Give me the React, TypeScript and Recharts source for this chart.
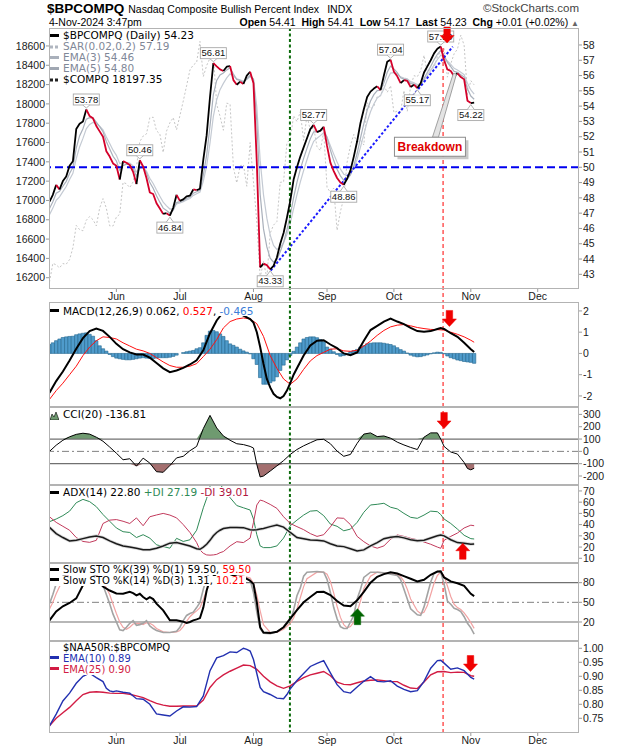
import React from 'react';
import { ComposedChart, Line, Area, Bar, XAxis, YAxis, ReferenceLine, ReferenceDot } from 'recharts';

// ---------------- DATA ----------------
const monthTicks = [20, 39, 61, 83, 103, 126, 146];
const monthNames = ['Jun', 'Jul', 'Aug', 'Sep', 'Oct', 'Nov', 'Dec'];

// $BPCOMPQ daily closes (trading-day index 0 = 3 May 2024 ... 127 = 4 Nov 2024)
const bpValues = [
  47.75, 48.2, 48.85, 48.55, 49.1, 49.4, 50.1, 50.4, 52.5, 52.85,
  53.0, 53.78, 53.35, 53.2, 52.7, 52.35, 52.0, 51.05, 50.7, 50.25,
  50.1, 49.2, 50.4, 50.3, 50.15, 49.7, 48.9, 50.46, 50.05, 49.3,
  48.35, 48.25, 47.65, 47.3, 46.95, 47.0, 46.84, 47.35, 48.2, 47.8,
  47.9, 48.1, 48.15, 48.55, 48.5, 48.6, 50.5, 52.1, 54.6, 56.81,
  56.6, 56.4, 56.3, 56.58, 56.62, 55.7, 55.4, 55.6, 55.45, 56.0,
  56.25, 55.5, 50.3, 43.45, 43.7, 43.6, 43.33, 43.55, 44.1, 45.0,
  45.7, 46.7, 47.8, 49.2, 50.0, 50.7, 51.3, 51.9, 52.5, 52.77,
  52.3, 52.4, 52.65, 51.4, 50.3, 49.75, 49.3, 49.0, 48.86, 49.25,
  49.8, 50.7, 51.7, 52.9, 53.8, 54.6, 54.95, 55.15, 55.3, 55.05,
  56.0, 56.9, 57.04, 56.25, 55.95, 55.5, 55.7, 55.65, 55.25, 55.4,
  55.17, 55.5, 56.2, 56.6, 57.0, 57.45, 57.75, 57.9, 57.0, 56.4,
  56.3, 55.95, 56.15, 55.9, 55.75, 54.35, 54.2, 54.23,
];
const ema3Values = [
  47.3, 47.75, 48.3, 48.43, 48.76, 49.08, 49.59, 50.0, 51.25, 52.05,
  52.52, 53.15, 53.25, 53.23, 52.96, 52.66, 52.33, 51.69, 51.2, 50.72,
  50.41, 49.8, 50.1, 50.2, 50.18, 49.94, 49.42, 49.94, 50.0, 49.65,
  49.0, 48.63, 48.14, 47.72, 47.33, 47.17, 47.0, 47.18, 47.69, 47.75,
  47.82, 47.96, 48.06, 48.3, 48.4, 48.5, 49.5, 50.8, 52.7, 54.76,
  55.68, 56.04, 56.17, 56.37, 56.5, 56.1, 55.75, 55.68, 55.56, 55.78,
  56.02, 55.76, 53.03, 48.24, 45.97, 44.79, 44.06, 43.8, 43.95, 44.48,
  45.09, 45.9, 46.85, 48.02, 49.01, 49.86, 50.58, 51.24, 51.87, 52.32,
  52.31, 52.36, 52.5, 51.95, 51.13, 50.44, 49.87, 49.44, 49.15, 49.2,
  49.5, 50.1, 50.9, 51.9, 52.85, 53.73, 54.34, 54.75, 55.02, 55.04,
  55.52, 56.21, 56.62, 56.44, 56.19, 55.85, 55.77, 55.71, 55.48, 55.44,
  55.3, 55.4, 55.8, 56.2, 56.6, 57.03, 57.39, 57.64, 57.32, 56.86,
  56.58, 56.27, 56.21, 56.05, 55.9, 55.13, 54.66, 54.45,
];
const ema5Values = [
  46.9, 47.33, 47.84, 48.07, 48.41, 48.74, 49.2, 49.6, 50.57, 51.33,
  51.89, 52.52, 52.8, 52.93, 52.85, 52.68, 52.45, 51.98, 51.55, 51.12,
  50.78, 50.25, 50.3, 50.3, 50.28, 50.09, 49.69, 49.95, 49.98, 49.75,
  49.28, 48.94, 48.51, 48.11, 47.72, 47.48, 47.27, 47.3, 47.6, 47.67,
  47.75, 47.87, 47.96, 48.16, 48.27, 48.38, 49.09, 50.09, 51.59, 53.33,
  54.42, 55.08, 55.49, 55.85, 56.11, 55.97, 55.78, 55.72, 55.63, 55.75,
  55.92, 55.78, 53.95, 50.45, 48.2, 46.67, 45.56, 44.89, 44.63, 44.75,
  45.07, 45.61, 46.34, 47.29, 48.19, 49.03, 49.79, 50.49, 51.16, 51.7,
  51.9, 52.07, 52.26, 51.97, 51.41, 50.86, 50.34, 49.89, 49.55, 49.45,
  49.57, 49.95, 50.53, 51.32, 52.15, 52.97, 53.63, 54.14, 54.53, 54.7,
  55.13, 55.72, 56.16, 56.19, 56.11, 55.91, 55.84, 55.78, 55.6, 55.53,
  55.41, 55.44, 55.69, 55.99, 56.33, 56.7, 57.05, 57.33, 57.22, 56.95,
  56.73, 56.47, 56.36, 56.21, 56.06, 55.49, 55.06, 54.78,
];
const compqValues = [
  16156, 16349, 16333, 16302, 16346, 16340, 16388, 16511, 16742, 16698,
  16686, 16795, 16833, 16801, 16737, 16921, 17019, 16920, 16737, 16735,
  16828, 16857, 17187, 17173, 17133, 17192, 17343, 17608, 17667, 17689,
  17857, 17862, 17721, 17689, 17497, 17718, 17805, 17858, 17732, 17879,
  18029, 18188, 18352, 18403, 18430, 18647, 18283, 18398, 18473, 18509,
  17997, 17871, 17727, 18008, 17997, 17342, 17182, 17358, 17370, 17147,
  17599, 17194, 16776, 16200, 16367, 16195, 16660, 16745, 16781, 17188,
  17192, 17595, 17632, 17877, 17817, 17918, 17620, 17878, 17726, 17754,
  17556, 17516, 17714, 17136, 17084, 17128, 16691, 16885, 17026, 17396,
  17570, 17684, 17593, 17628, 17574, 18014, 17948, 17974, 18075, 18082,
  18191, 18120, 18189, 17910, 17926, 17918, 18138, 17924, 18183, 18292,
  18282, 18343, 18503, 18316, 18367, 18374, 18490, 18540, 18573, 18277,
  18415, 18519, 18567, 18712, 18607, 18095, 18240, 18197,
];

// MACD(12,26,9)
const macdHist = [
  0.42, 0.5, 0.6, 0.68, 0.75, 0.78, 0.8, 0.81, 0.88, 0.92,
  0.95, 0.97, 0.9, 0.81, 0.6, 0.36, 0.22, 0.11, -0.05, -0.15,
  -0.22, -0.25, -0.28, -0.3, -0.3, -0.28, -0.25, -0.22, -0.2, -0.22,
  -0.24, -0.24, -0.22, -0.2, -0.2, -0.2, -0.18, -0.14, -0.08, 0.0,
  0.04, 0.08, 0.11, 0.14, 0.22, 0.27, 0.5, 0.85, 1.05, 1.08,
  1.02, 0.92, 0.8, 0.6, 0.45, 0.38, 0.3, 0.2, 0.12, 0.06,
  -0.02, -0.25, -0.52, -1.14, -1.45, -1.45, -1.38, -1.3, -1.1, -0.8,
  -0.55, -0.3, -0.1, 0.1, 0.3, 0.5, 0.68, 0.75, 0.78, 0.78,
  0.74, 0.65, 0.55, 0.3, 0.2, 0.08, -0.05, -0.13, -0.1, -0.02,
  0.08, 0.13, 0.19, 0.3, 0.36, 0.45, 0.48, 0.5, 0.5, 0.5,
  0.48, 0.45, 0.42, 0.36, 0.27, 0.18, 0.11, 0.02, -0.08, -0.13,
  -0.16, -0.15, -0.11, -0.07, -0.02, 0.03, 0.06, 0.05, -0.02, -0.12,
  -0.2, -0.25, -0.31, -0.34, -0.38, -0.4, -0.42, -0.465,
];
const macdDays = [
  0, 2, 4, 6, 8, 10, 12, 14, 16, 18, 20, 22, 24, 26, 28, 30, 32, 34, 36, 38, 40, 42, 44, 46, 48, 50, 52, 54, 56, 58, 60,
  61, 62, 63, 64, 65, 66, 67, 68, 69, 70, 71, 72, 73, 74,
  76, 78, 80, 82, 84, 86, 88, 90, 92, 94, 96, 98, 100, 102, 104, 106, 108, 110, 112, 114, 116,
  117, 118, 120, 122, 124, 126, 127,
];
const macdLine = [
  -1.85, -1.3, -0.85, -0.33, 0.22, 0.72, 1.05, 1.17, 1.06, 0.78,
  0.45, 0.2, 0.05, -0.05, -0.05, -0.2, -0.45, -0.7, -0.88, -0.8,
  -0.68, -0.52, -0.32, 0.15, 0.95, 1.55, 1.95, 2.05, 1.95, 1.78, 1.62,
  1.45, 1.0, 0.3, -0.5, -1.2, -1.6, -1.9, -2.05, -2.11, -2.0, -1.75, -1.4, -1.0, -0.7,
  -0.1, 0.38, 0.6, 0.62, 0.42, 0.25, 0.0, -0.08, 0.05, 0.6, 1.1, 1.3, 1.5, 1.64, 1.5, 1.38, 1.2, 1.05, 1.02, 1.05, 1.15,
  1.2, 1.15, 0.95, 0.78, 0.5, 0.2, 0.062,
];
const signalDays = [
  0, 2, 4, 6, 8, 10, 12, 14, 16, 18, 20, 22, 24, 26, 28, 30, 32, 34, 36, 38, 40, 42, 44, 46, 48, 50, 52, 54, 56, 58,
  60, 62, 64, 66, 68, 70, 72, 74, 76, 78, 80, 82, 84, 86, 88, 90, 92, 94, 96, 98,
  100, 102, 104, 106, 108, 110, 112, 114, 116, 118, 120, 122, 124, 126, 127,
];
const signalLine = [
  -2.16, -1.75, -1.4, -1.0, -0.6, -0.1, 0.3, 0.6, 0.78, 0.75,
  0.68, 0.5, 0.35, 0.2, 0.12, 0.0, -0.2, -0.4, -0.57, -0.65,
  -0.65, -0.6, -0.48, -0.15, 0.2, 0.65, 1.2, 1.5, 1.62, 1.67,
  1.62, 1.4, 0.8, -0.1, -0.7, -1.2, -1.45, -1.2, -0.75, -0.35,
  -0.1, 0.05, 0.2, 0.22, 0.12, 0.1, 0.15, 0.35, 0.58, 0.85,
  1.08, 1.25, 1.33, 1.36, 1.3, 1.22, 1.17, 1.13, 1.12, 1.1,
  1.0, 0.9, 0.78, 0.62, 0.527,
];

// CCI(20)
const cciDays = [
  0, 2, 4, 6, 8, 10, 12, 14, 16, 18, 20, 22, 24, 26, 28, 30, 32, 34, 36, 38, 40, 42, 44, 46, 48, 50, 52, 54, 56, 58,
  60, 61, 62, 63, 64, 66, 68, 70, 72, 74, 76, 78, 80, 82, 84, 86, 88, 90, 92, 94,
  96, 98, 100, 102, 104, 106, 108, 110, 112, 114, 116, 117, 118, 120, 122, 124, 125, 126, 127,
];
const cciValues = [
  0, 50, 90, 118, 138, 147, 140, 115, 82, 35,
  -15, -68, -60, -120, -55, -95, -165, -170, -115, -53,
  -40, 5, 40, 185, 292, 190, 125, 90, 62, 55,
  40, 27, -107, -208, -200, -160, -118, -75, -25, 15,
  45, 70, 94, 98, 62, 2, -40, -25, 65, 140,
  150, 120, 125, 107, 75, 52, 32, 15, 115, 150,
  150, 100, 40, -5, -22, -90, -139, -150, -137,
];

// ADX(14), +DI, -DI
const adxDays = [
  0, 2, 4, 6, 8, 10, 12, 14, 16, 18, 20, 22, 24, 26, 28, 30, 32, 34, 36, 38, 40, 42, 44,
  45, 46, 47, 48, 49, 50, 51, 52, 54, 56, 58, 60, 61, 62, 63, 64,
  66, 68, 70, 72, 74, 76, 78, 80, 82, 84, 86, 88, 90, 92, 94, 96, 98, 100, 102, 104, 106, 108, 110, 112, 114, 116,
  117, 118, 120, 122, 124, 126, 127,
];
const adxValues = [
  37.5, 32, 28.5, 25.5, 26, 27.5, 29, 29.9, 28.5, 25.5, 23, 21, 20, 18.9, 17.6, 17.6, 19, 21, 23.5, 24, 22.5, 21, 18.5,
  18, 20, 22.5, 26, 30, 33, 35, 36.5, 37.5, 37.5, 37.3, 35.5, 35.2, 35.5, 36, 36.5,
  38.2, 39.7, 37.8, 33, 28.5, 27.5, 26.3, 26, 25.5, 23, 21, 20.4, 18.5, 16.6, 17.5, 21, 24, 27.5, 28.8, 29.3, 28.2, 26.5, 25.6, 26, 28, 30,
  30.8, 30, 26.5, 24, 23.5, 22.6, 22.8,
];
const plusDiValues = [
  42.6, 45, 48, 52, 59.5, 62.5, 60.5, 56, 49, 43, 37, 33.7, 33, 28.5, 31, 28, 22, 20.5, 19, 27.8, 25, 26.5, 35,
  45, 55, 63.4, 74, 79, 80, 77, 71, 64, 57, 55, 53, 45, 31, 21, 19.5,
  19.5, 21, 28, 39, 44, 48.5, 52, 52.5, 48, 40.5, 38.5, 34.5, 36, 42, 51, 57.5, 58.1, 59, 55.5, 54, 50, 46.5, 45.6, 48.5, 52, 51.5,
  49, 45, 41, 36, 30.5, 27.5, 27.19,
];
const minusDiValues = [
  47, 42, 38.5, 35, 28.5, 25, 24.2, 26, 41, 44, 44.5, 43, 41, 46, 39, 47, 48.6, 50, 48.5, 46, 40, 33, 24,
  17.4, 14.5, 13, 12.8, 13, 13.5, 15, 16, 21, 24.8, 24, 28, 42, 57.5, 61.9, 61,
  58, 54.5, 47, 41, 38.2, 35.5, 32, 29.5, 31, 38, 46, 45.6, 40, 29.5, 24.8, 21, 19, 21, 27, 30.8, 29.5, 27.8, 26.5, 24.5, 22.5, 20,
  18.9, 26, 29.5, 32.5, 37, 39.5, 39.01,
];

// Slow STO %K(39) %D(1)
const stoSlowDays = [
  0, 2, 4, 6, 8, 9, 10, 11, 12, 14, 15, 16, 18, 20, 22, 24, 25, 26, 27, 28, 29, 30, 31, 32, 34, 36, 38, 40,
  41, 42, 43, 44, 45, 46, 47, 48, 50, 52, 54, 56, 58, 60, 61, 62, 63, 64,
  66, 68, 70, 72, 74, 76, 78, 80, 82, 84, 86, 88, 90, 92, 94, 96, 98, 100, 102, 104, 106, 108, 110, 112, 114, 116,
  117, 118, 120, 122, 124, 126, 127,
];
const stoSlowK = [
  22.5, 36, 44, 49, 56, 66, 76, 84, 88, 86, 80, 74, 68, 63.5, 63, 66, 64, 60.7, 63, 58, 54.6, 58, 55, 48, 37.8, 22.5, 22.5, 20.5,
  18.5, 20, 22.5, 24, 26, 42, 68, 85, 94, 95, 93, 89, 88.6, 83, 78, 50, 12, 4,
  3.2, 5, 12, 25, 38, 50, 58, 65.8, 66, 61, 52, 45, 44, 53, 66, 80, 89, 93, 96, 94, 90, 86, 82, 84.5, 92, 97,
  97.3, 88, 82, 79, 75, 63, 59.5,
];
// Slow STO %K(14) %D(3)
const stoFastDays = [
  0, 1, 2, 4, 6, 8, 10, 12, 14, 16,
  17, 18, 19, 20, 21, 22, 23, 24, 25, 26, 27, 28, 29, 30, 31, 32,
  34, 36, 38, 39, 40, 41, 42, 43, 44, 45, 46, 47, 48,
  50, 52, 54, 56, 58, 60, 61, 62, 63, 64, 66, 68, 70, 72,
  73, 74, 75, 76, 77, 80, 82, 83, 84, 85, 86, 87, 88, 89, 90, 91, 92, 93, 94,
  96, 98, 100, 102, 104, 105, 106, 107, 108,
  110, 111, 112, 113, 114, 115, 116, 117, 118, 119, 120, 121, 122, 123, 124, 125, 126, 127,
];
const stoFastK = [
  48, 62, 78, 90, 94, 95, 93, 95, 90, 76,
  62, 48, 32, 20, 8, 7, 12, 18, 22, 15, 16, 18, 22, 14, 10, 7,
  4, 4, 6, 12, 22, 30, 33, 35, 42, 50, 70, 88, 95,
  96, 95, 94, 90, 89, 84, 65, 35, 10, 3, 2, 5, 12, 22,
  38, 60, 72, 90, 96, 97, 96, 85, 65, 42, 25, 13, 10, 10, 20, 30, 55, 70, 88,
  96, 96, 95, 93, 91, 85, 70, 55, 40,
  31, 30, 43, 62, 81, 94, 97, 96, 78, 52, 47, 41, 39, 36, 28, 18, 11, 1.31,
];
const stoFastD = [
  40, 50, 63, 85, 93, 94, 94, 94, 92, 82,
  72, 62, 47, 33, 20, 12, 9, 12, 17, 18, 18, 16, 19, 18, 15, 10,
  5, 4, 5, 7, 13, 21, 28, 33, 37, 42, 54, 69, 84,
  95, 95, 95, 92, 90, 87, 79, 61, 37, 16, 4, 4, 9, 18,
  26, 40, 57, 74, 86, 96, 96, 93, 82, 64, 44, 27, 16, 11, 13, 20, 35, 52, 71,
  90, 96, 95, 94, 92, 89, 82, 70, 55,
  37, 33, 35, 45, 62, 79, 91, 96, 90, 75, 59, 47, 42, 39, 34, 27, 19, 10.21,
];

// $NAA50R:$BPCOMPQ
const naaEma10Days = [
  0, 2, 4, 6, 8, 10, 12, 14, 16, 17, 18, 19,
  20, 22, 24, 26, 28, 30, 32, 34, 36, 38, 40, 42, 44, 46, 48, 50, 52, 54, 56, 58,
  59, 60, 61, 62, 63, 64, 66, 68, 70, 71, 72, 74,
  76, 78, 80, 82, 84, 86, 88, 90, 92, 94, 96, 98, 100, 102, 104, 106, 108, 110, 112, 114, 116,
  117, 118, 120, 122, 124, 126, 127,
];
const naaEma10 = [
  0.723, 0.765, 0.812, 0.84, 0.875, 0.9, 0.911, 0.895, 0.881, 0.857, 0.848, 0.845,
  0.848, 0.843, 0.84, 0.82, 0.818, 0.8, 0.766, 0.762, 0.758, 0.776, 0.791, 0.79, 0.792, 0.83, 0.92, 0.966, 0.974, 0.987, 0.985, 1.0,
  0.996, 0.99, 0.96, 0.91, 0.86, 0.845, 0.835, 0.822, 0.82, 0.835, 0.855, 0.885,
  0.91, 0.935, 0.946, 0.956, 0.912, 0.87, 0.845, 0.84, 0.862, 0.882, 0.899, 0.882, 0.88, 0.884, 0.865, 0.853, 0.845, 0.849, 0.882, 0.929, 0.956,
  0.957, 0.947, 0.925, 0.93, 0.92, 0.896, 0.89,
];
const naaEma25Days = [
  0, 2, 4, 6, 8, 10, 12, 14, 16, 18, 20, 22, 24, 26, 28, 30, 32, 34, 36, 38, 40, 42, 44, 46, 48, 50, 52, 54, 56, 58,
  60, 62, 64, 66, 68, 70, 72, 74, 76, 78, 80, 82, 84, 86, 88, 90, 92, 94, 96, 98,
  100, 102, 104, 106, 108, 110, 112, 114, 116, 118, 120, 122, 124, 126, 127,
];
const naaEma25 = [
  0.723, 0.75, 0.77, 0.789, 0.813, 0.835, 0.843, 0.845, 0.843, 0.84,
  0.839, 0.839, 0.836, 0.83, 0.824, 0.813, 0.803, 0.797, 0.793, 0.793,
  0.794, 0.794, 0.794, 0.815, 0.86, 0.888, 0.905, 0.918, 0.929, 0.94,
  0.938, 0.925, 0.9, 0.88, 0.866, 0.857, 0.866, 0.882, 0.895, 0.905,
  0.911, 0.917, 0.902, 0.879, 0.871, 0.87, 0.877, 0.883, 0.886, 0.887,
  0.884, 0.881, 0.881, 0.868, 0.858, 0.856, 0.88, 0.905, 0.916, 0.917,
  0.913, 0.915, 0.914, 0.902, 0.9,
];

// Annotations
const peakTags = [
  { idx: 11, value: 53.78, text: '53.78', below: false },
  { idx: 27, value: 50.46, text: '50.46', below: false },
  { idx: 36, value: 46.84, text: '46.84', below: true },
  { idx: 49, value: 56.81, text: '56.81', below: false },
  { idx: 66, value: 43.33, text: '43.33', below: true },
  { idx: 79, value: 52.77, text: '52.77', below: false },
  { idx: 88, value: 48.86, text: '48.86', below: true },
  { idx: 102, value: 57.04, text: '57.04', below: false },
  { idx: 110, value: 55.17, text: '55.17', below: true },
  { idx: 117, value: 57.9, text: '57.90', below: false },
  { idx: 126, value: 54.2, text: '54.22', below: true },
];
const trendAnchors = [
  { x: 66.15, y: 43.24 },
  { x: 120.6, y: 57.89 },
];
const calloutPoint = { idx: 122, value: 56.15, text: 'Breakdown' };
const vMarks = { green: 71.9, red: 117.7, redTopValue: 57.8 };
const arrowMarks = {
  main: { idx: 118.9, value: 58.13, dir: 'down' },
  macd: { idx: 119.6, value: 1.27, dir: 'down' },
  cci: { idx: 118.0, value: 186, dir: 'down' },
  adx: { idx: 123.6, value: 23.4, dir: 'up' },
  sto: { idx: 92.1, value: 40.3, dir: 'up' },
  naa: { idx: 125.9, value: 0.917, dir: 'down' },
};

// ---------------- STYLE / LAYOUT ----------------
const W = 620;
const X_DOMAIN: [number, number] = [-0.15, 158.35];
const AXIS_FONT = "'Liberation Sans', Arial, sans-serif";
const LEGEND_FONT = "'DejaVu Sans', Verdana, sans-serif";
const UP_COLOR = '#000000';
const DOWN_COLOR = '#d4002a';
const ARROW_RED = '#f00000';
const ARROW_GREEN = '#006400';
const GREEN_LINE = '#0b6a0b';
const RED_LINE = '#ff0000';
const tickStyle = { fontSize: 10.5, fontFamily: AXIS_FONT, fill: '#1a1a1a' };
const tickLine = { stroke: '#9a9a9a' };

const monthLabel = (v: number) => {
  const i = monthTicks.indexOf(v);
  return i >= 0 ? monthNames[i] : '';
};

function table(series: Array<[string, number[], number[]]>) {
  const map = new Map<number, any>();
  series.forEach(([key, days, vals]) => {
    days.forEach((d, i) => {
      if (!map.has(d)) map.set(d, { x: d });
      map.get(d)[key] = vals[i];
    });
  });
  return Array.from(map.values()).sort((a, b) => a.x - b.x);
}

// main rows with up/down colour runs
const mainRows: any[] = bpValues.map((v, i) => ({ x: i, bp: v, ema3: ema3Values[i], ema5: ema5Values[i], compq: compqValues[i] }));
const runs: { key: string; color: string }[] = [];
(() => {
  let start = 0;
  let dirUp = bpValues[1] >= bpValues[0];
  for (let i = 2; i <= bpValues.length; i++) {
    const end = i === bpValues.length;
    const up = end ? dirUp : bpValues[i] >= bpValues[i - 1];
    if (end || up !== dirUp) {
      const key = `run${runs.length}`;
      for (let j = start; j <= i - 1; j++) mainRows[j][key] = bpValues[j];
      runs.push({ key, color: dirUp ? UP_COLOR : DOWN_COLOR });
      start = i - 1;
      dirUp = up;
    }
  }
})();

const macdRows = table([
  ['hist', bpValues.map((_, i) => i), macdHist],
  ['macd', macdDays, macdLine],
  ['signal', signalDays, signalLine],
]);
const cciRows = table([['cci', cciDays, cciValues]]).map((r) => ({
  ...r,
  hi: Math.max(r.cci, 100),
  lo: Math.min(r.cci, -100),
}));
const adxRows = table([
  ['adx', adxDays, adxValues],
  ['pdi', adxDays, plusDiValues],
  ['mdi', adxDays, minusDiValues],
]);
const stoRows = table([
  ['slow', stoSlowDays, stoSlowK],
  ['k', stoFastDays, stoFastK],
  ['d', stoFastDays, stoFastD],
]);
const naaRows = table([
  ['e10', naaEma10Days, naaEma10],
  ['e25', naaEma25Days, naaEma25],
]);

// ---------------- SHAPES ----------------
function ValueTag({ cx, cy, text, below }: any) {
  const w = 26;
  const h = 11;
  const top = below ? cy + 6.5 : cy - 15.5;
  const edge = below ? top : top + h;
  const tip = below ? cy + 1.5 : cy - 1.5;
  return (
    <g>
      <rect x={cx - w / 2} y={top} width={w} height={h} fill="#ffffff" stroke="#a9a9a9" strokeWidth={0.9} />
      <polyline points={`${cx - 3.5},${edge} ${cx},${tip} ${cx + 3.5},${edge}`} fill="#ffffff" stroke="#a9a9a9" strokeWidth={0.9} />
      <text x={cx} y={top + 8.7} textAnchor="middle" fontSize={9.5} fontFamily={AXIS_FONT} fill="#111">
        {text}
      </text>
    </g>
  );
}

function Callout({ cx, cy, text }: any) {
  const bw = 71;
  const bh = 19;
  const bx = cx - 63;
  const by = cy + 64;
  return (
    <g>
      <polygon
        points={`${cx - 25},${by} ${cx - 19},${by} ${cx - 1},${cy + 1} ${cx - 4},${cy}`}
        fill="#e3e3e3"
        stroke="#8c8c8c"
        strokeWidth={0.8}
      />
      <rect x={bx + 3} y={by + 3} width={bw} height={bh} fill="#9a9a9a" opacity={0.55} />
      <rect x={bx} y={by} width={bw} height={bh} fill="#ffffff" stroke="#8c8c8c" strokeWidth={1} />
      <text x={bx + bw / 2} y={by + 13.6} textAnchor="middle" fontSize={12} fontWeight="bold" fontFamily={AXIS_FONT} fill="#e00000">
        {text}
      </text>
    </g>
  );
}

function BlockArrow({ cx, cy, dir, color }: any) {
  const w = 14;
  const h = 16;
  const headH = 7.5;
  const stemW = 6.5;
  const s = dir === 'down' ? -1 : 1;
  const pts = [
    [cx, cy],
    [cx - w / 2, cy + s * headH],
    [cx - stemW / 2, cy + s * headH],
    [cx - stemW / 2, cy + s * h],
    [cx + stemW / 2, cy + s * h],
    [cx + stemW / 2, cy + s * headH],
    [cx + w / 2, cy + s * headH],
  ]
    .map((p) => p.join(','))
    .join(' ');
  return <polygon points={pts} fill={color} stroke={color} strokeWidth={0.5} />;
}

const arrowDot = (a: any, yAxisId: string, color: string) => (
  <ReferenceDot
    yAxisId={yAxisId}
    x={a.idx}
    y={a.value}
    r={0}
    shape={(p: any) => <BlockArrow cx={p.cx} cy={p.cy} dir={a.dir} color={color} />}
  />
);

const vLines = (yAxisId: string) => [
  <ReferenceLine key="g" yAxisId={yAxisId} x={vMarks.green} stroke={GREEN_LINE} strokeWidth={2} strokeDasharray="3 2.5" />,
  <ReferenceLine key="r" yAxisId={yAxisId} x={vMarks.red} stroke={RED_LINE} strokeWidth={1} strokeDasharray="4 3" />,
];

const rightAxis = (domain: [number, number], ticks: number[], fmt?: (v: number) => string) => (
  <YAxis
    yAxisId="r"
    orientation="right"
    width={41}
    domain={domain}
    ticks={ticks}
    interval={0}
    allowDataOverflow
    axisLine={false}
    tickSize={3}
    tickMargin={1}
    tickLine={tickLine}
    tick={tickStyle}
    tickFormatter={fmt}
  />
);

const hiddenX = <XAxis dataKey="x" type="number" domain={X_DOMAIN} allowDataOverflow hide />;

// ---------------- PANELS ----------------
const MAIN_RIGHT: [number, number] = [42.04, 59.11];
const MAIN_LEFT: [number, number] = [16083, 18786];
const gapBottomValue = MAIN_RIGHT[0] - 13 / 15.29;

function MainPanel() {
  return (
    <ComposedChart width={W} height={305} data={mainRows} margin={{ top: 28, right: 0, bottom: 0, left: 0 }}>
      <XAxis
        dataKey="x"
        type="number"
        domain={X_DOMAIN}
        allowDataOverflow
        ticks={monthTicks}
        interval={0}
        tickFormatter={monthLabel}
        height={16}
        tickSize={3}
        tickMargin={1}
        axisLine={false}
        tickLine={tickLine}
        tick={tickStyle}
      />
      <YAxis
        yAxisId="l"
        orientation="left"
        width={49}
        domain={MAIN_LEFT}
        ticks={[16200, 16400, 16600, 16800, 17000, 17200, 17400, 17600, 17800, 18000, 18200, 18400, 18600]}
        interval={0}
        allowDataOverflow
        axisLine={false}
        tickSize={3}
        tickMargin={1}
        tickLine={tickLine}
        tick={tickStyle}
      />
      {rightAxis(MAIN_RIGHT, [43, 44, 45, 46, 47, 48, 49, 50, 51, 52, 53, 54, 55, 56, 57, 58])}
      <Line yAxisId="l" dataKey="compq" stroke="#c6c6c6" strokeWidth={1} strokeDasharray="2 2" dot={false} isAnimationActive={false} />
      <Line yAxisId="r" dataKey="ema5" stroke="#c4cad3" strokeWidth={1.2} dot={false} isAnimationActive={false} />
      <Line yAxisId="r" dataKey="ema3" stroke="#a9b0bb" strokeWidth={1.2} dot={false} isAnimationActive={false} />
      <ReferenceLine yAxisId="r" y={50} stroke="#0000f0" strokeWidth={2} strokeDasharray="8 4" />
      <ReferenceLine yAxisId="r" segment={trendAnchors} stroke="#1a1aff" strokeWidth={2} strokeDasharray="2.5 2" ifOverflow="visible" />
      <ReferenceLine
        yAxisId="r"
        segment={[
          { x: vMarks.green, y: MAIN_RIGHT[1] },
          { x: vMarks.green, y: gapBottomValue },
        ]}
        stroke={GREEN_LINE}
        strokeWidth={2}
        strokeDasharray="3 2.5"
        ifOverflow="visible"
      />
      <ReferenceLine
        yAxisId="r"
        segment={[
          { x: vMarks.red, y: vMarks.redTopValue },
          { x: vMarks.red, y: gapBottomValue },
        ]}
        stroke={RED_LINE}
        strokeWidth={1}
        strokeDasharray="4 3"
        ifOverflow="visible"
      />
      {runs.map((r) => (
        <Line
          key={r.key}
          yAxisId="r"
          dataKey={r.key}
          stroke={r.color}
          strokeWidth={1.8}
          strokeLinejoin="round"
          dot={false}
          isAnimationActive={false}
        />
      ))}
      {peakTags.map((t) => (
        <ReferenceDot
          key={t.text}
          yAxisId="r"
          x={t.idx}
          y={t.value}
          r={0}
          shape={(p: any) => <ValueTag cx={p.cx} cy={p.cy} text={t.text} below={t.below} />}
        />
      ))}
      <ReferenceDot
        yAxisId="r"
        x={calloutPoint.idx}
        y={calloutPoint.value}
        r={0}
        shape={(p: any) => <Callout cx={p.cx} cy={p.cy} text={calloutPoint.text} />}
      />
      {arrowDot(arrowMarks.main, 'r', ARROW_RED)}
    </ComposedChart>
  );
}

function MacdPanel() {
  return (
    <ComposedChart width={W} height={105} data={macdRows} margin={{ top: 0, right: 0, bottom: 0, left: 49 }} barGap={0} barCategoryGap={0}>
      {hiddenX}
      {rightAxis([-2.52, 2.42], [-2, -1, 0, 1, 2])}
      <Bar yAxisId="r" dataKey="hist" fill="#4f9bcb" stroke="#23668f" strokeWidth={0.6} barSize={3.3} isAnimationActive={false} />
      {vLines('r')}
      <Line yAxisId="r" dataKey="signal" stroke="#ff1010" strokeWidth={1} connectNulls dot={false} isAnimationActive={false} />
      <Line yAxisId="r" dataKey="macd" stroke="#000" strokeWidth={2} connectNulls dot={false} isAnimationActive={false} />
      {arrowDot(arrowMarks.macd, 'r', ARROW_RED)}
    </ComposedChart>
  );
}

function CciPanel() {
  return (
    <ComposedChart width={W} height={78} data={cciRows} margin={{ top: 0, right: 0, bottom: 0, left: 49 }}>
      {hiddenX}
      {rightAxis([-273, 360], [-200, -100, 0, 100, 200, 300])}
      <Area yAxisId="r" dataKey="hi" baseValue={100} fill="#6f9a70" fillOpacity={1} stroke="none" isAnimationActive={false} />
      <Area yAxisId="r" dataKey="lo" baseValue={-100} fill="#a46f6f" fillOpacity={1} stroke="none" isAnimationActive={false} />
      <ReferenceLine yAxisId="r" y={100} stroke="#707070" strokeWidth={1.2} />
      <ReferenceLine yAxisId="r" y={-100} stroke="#707070" strokeWidth={1.2} />
      <ReferenceLine yAxisId="r" y={0} stroke="#808080" strokeWidth={1} strokeDasharray="7 3 2 3" />
      {vLines('r')}
      <Line yAxisId="r" dataKey="cci" stroke="#000" strokeWidth={1} dot={false} isAnimationActive={false} />
      {arrowDot(arrowMarks.cci, 'r', ARROW_RED)}
    </ComposedChart>
  );
}

function AdxPanel() {
  return (
    <ComposedChart width={W} height={78} data={adxRows} margin={{ top: 0, right: 0, bottom: 0, left: 49 }}>
      {hiddenX}
      {rightAxis([5.8, 75.3], [10, 20, 30, 40, 50, 60, 70])}
      {vLines('r')}
      <Line yAxisId="r" dataKey="pdi" stroke="#2f8a57" strokeWidth={1} dot={false} isAnimationActive={false} />
      <Line yAxisId="r" dataKey="mdi" stroke="#c23a5c" strokeWidth={1} dot={false} isAnimationActive={false} />
      <Line yAxisId="r" dataKey="adx" stroke="#dadada" strokeWidth={3.2} dot={false} isAnimationActive={false} />
      <Line yAxisId="r" dataKey="adx" stroke="#1a1a1a" strokeWidth={1.5} dot={false} isAnimationActive={false} />
      {arrowDot(arrowMarks.adx, 'r', ARROW_RED)}
    </ComposedChart>
  );
}

function StoPanel() {
  return (
    <ComposedChart width={W} height={78} data={stoRows} margin={{ top: 0, right: 0, bottom: 0, left: 49 }}>
      {hiddenX}
      {rightAxis([-9, 110], [20, 50, 80])}
      <ReferenceLine yAxisId="r" y={80} stroke="#707070" strokeWidth={1.2} />
      <ReferenceLine yAxisId="r" y={20} stroke="#707070" strokeWidth={1.2} />
      <ReferenceLine yAxisId="r" y={50} stroke="#808080" strokeWidth={1} strokeDasharray="7 3 2 3" />
      {vLines('r')}
      <Line yAxisId="r" dataKey="d" stroke="#f2a3a3" strokeWidth={1.2} connectNulls dot={false} isAnimationActive={false} />
      <Line yAxisId="r" dataKey="k" stroke="#a3a3a3" strokeWidth={1.6} connectNulls dot={false} isAnimationActive={false} />
      <Line yAxisId="r" dataKey="slow" stroke="#000" strokeWidth={2} connectNulls dot={false} isAnimationActive={false} />
      {arrowDot(arrowMarks.sto, 'r', ARROW_GREEN)}
    </ComposedChart>
  );
}

function NaaPanel() {
  return (
    <ComposedChart width={W} height={109} data={naaRows} margin={{ top: 0, right: 0, bottom: 0, left: 49 }}>
      <XAxis
        dataKey="x"
        type="number"
        domain={X_DOMAIN}
        allowDataOverflow
        ticks={monthTicks}
        interval={0}
        tickFormatter={monthLabel}
        height={17}
        tickSize={3}
        tickMargin={1}
        axisLine={false}
        tickLine={tickLine}
        tick={tickStyle}
      />
      {rightAxis([0.6975, 1.026], [0.75, 0.8, 0.85, 0.9, 0.95, 1.0], (v) => v.toFixed(2))}
      {vLines('r')}
      <Line yAxisId="r" dataKey="e25" stroke="#d21c44" strokeWidth={1.4} connectNulls dot={false} isAnimationActive={false} />
      <Line yAxisId="r" dataKey="e10" stroke="#2230b0" strokeWidth={1.4} connectNulls dot={false} isAnimationActive={false} />
      {arrowDot(arrowMarks.naa, 'r', ARROW_RED)}
    </ComposedChart>
  );
}

// ---------------- LEGENDS ----------------
const Marker = ({ color, dotted }: { color: string; dotted?: boolean }) =>
  dotted ? (
    <span style={{ display: 'inline-block', width: 9, marginRight: 4, verticalAlign: 'middle' }}>
      <svg width={9} height={4} style={{ display: 'block' }}>
        <rect x={0} y={0.5} width={3} height={3} fill={color} />
        <rect x={5} y={0.5} width={3} height={3} fill={color} />
      </svg>
    </span>
  ) : (
    <span
      style={{ display: 'inline-block', width: 9, height: 3, background: color, marginRight: 4, verticalAlign: 'middle', position: 'relative', top: -1 }}
    />
  );

function LegendRow({ top, left = 50, size = 10.5, children }: any) {
  return (
    <div
      style={{
        position: 'absolute',
        left,
        top,
        height: 10,
        lineHeight: '10px',
        fontFamily: LEGEND_FONT,
        fontSize: size,
        whiteSpace: 'nowrap',
        background: '#ffffff',
        paddingRight: 1,
        color: '#000',
      }}
    >
      {children}
    </div>
  );
}

const GRAYTXT = '#7f8898';

function Borders() {
  const boxes = [
    [28, 289],
    [302, 407],
    [407, 485],
    [485, 563],
    [563, 641],
    [641, 733],
  ];
  return (
    <>
      {boxes.map(([t, b]) => (
        <div
          key={t}
          style={{ position: 'absolute', left: 49, top: t, width: 530, height: b - t, border: '1px solid #b3b3b3', boxSizing: 'border-box', pointerEvents: 'none' }}
        />
      ))}
    </>
  );
}

export default function App() {
  return (
    <div style={{ position: 'absolute', left: 0, top: 0, width: 620, height: 750, background: '#fff', overflow: 'hidden' }}>
      <div style={{ position: 'absolute', left: 0, top: 0 }}>
        <MainPanel />
      </div>
      <div style={{ position: 'absolute', left: 0, top: 302 }}>
        <MacdPanel />
      </div>
      <div style={{ position: 'absolute', left: 0, top: 407 }}>
        <CciPanel />
      </div>
      <div style={{ position: 'absolute', left: 0, top: 485 }}>
        <AdxPanel />
      </div>
      <div style={{ position: 'absolute', left: 0, top: 563 }}>
        <StoPanel />
      </div>
      <div style={{ position: 'absolute', left: 0, top: 641 }}>
        <NaaPanel />
      </div>
      <Borders />

      {/* header */}
      <div style={{ position: 'absolute', left: 47, top: 1, height: 14, lineHeight: '14px', whiteSpace: 'nowrap', fontFamily: AXIS_FONT, color: '#000' }}>
        <span style={{ fontSize: 13.5, fontWeight: 'bold' }}>$BPCOMPQ</span>
        <span style={{ fontSize: 10.5, marginLeft: 4 }}>Nasdaq Composite Bullish Percent Index</span>
        <span style={{ fontSize: 10.5, marginLeft: 8 }}>INDX</span>
      </div>
      <div style={{ position: 'absolute', right: 41, top: 2, height: 13, lineHeight: '13px', whiteSpace: 'nowrap', fontFamily: AXIS_FONT, fontSize: 11.5, color: '#444' }}>
        ©StockCharts.com
      </div>
      <div style={{ position: 'absolute', left: 49, top: 16.5, height: 11, lineHeight: '11px', whiteSpace: 'nowrap', fontFamily: AXIS_FONT, fontSize: 10.5, color: '#000' }}>
        4-Nov-2024 3:47pm
      </div>
      <div style={{ position: 'absolute', right: 41, top: 16.5, height: 11, lineHeight: '11px', whiteSpace: 'nowrap', fontFamily: AXIS_FONT, fontSize: 10.5, color: '#000' }}>
        <b>Open</b> 54.41 &nbsp;<b>High</b> 54.41 &nbsp;<b>Low</b> 54.17 &nbsp;<b>Last</b> 54.23 &nbsp;<b>Chg</b> +0.01 (+0.02%){' '}
        <span style={{ color: '#666', fontSize: 8 }}>▲</span>
      </div>

      {/* main legend */}
      <LegendRow top={30}>
        <Marker color="#000" />$BPCOMPQ (Daily) 54.23
      </LegendRow>
      <LegendRow top={41}>
        <span style={{ color: GRAYTXT }}>
          <Marker color="#b0b6c0" dotted />SAR(0.02,0.2) 57.19
        </span>
      </LegendRow>
      <LegendRow top={52}>
        <span style={{ color: GRAYTXT }}>
          <Marker color="#a9b0bb" />EMA(3) 54.46
        </span>
      </LegendRow>
      <LegendRow top={63}>
        <span style={{ color: GRAYTXT }}>
          <Marker color="#a0a7b2" />EMA(5) 54.80
        </span>
      </LegendRow>
      <LegendRow top={74}>
        <Marker color="#222" dotted />$COMPQ 18197.35
      </LegendRow>

      {/* MACD legend */}
      <LegendRow top={305.5}>
        <Marker color="#000" />MACD(12,26,9) 0.062, <span style={{ color: '#ff0000' }}>0.527</span>, <span style={{ color: '#3b7dd8' }}>-0.465</span>
      </LegendRow>
      {/* CCI legend */}
      <LegendRow top={409}>
        <span style={{ display: 'inline-block', width: 9, marginRight: 4, verticalAlign: 'middle' }}>
          <svg width={9} height={9} style={{ display: 'block' }}>
            <polygon points="0,9 2,3 4,6 6,1 9,9" fill="#6f9a70" stroke="#000" strokeWidth={0.6} />
          </svg>
        </span>
        CCI(20) -136.81
      </LegendRow>
      {/* ADX legend */}
      <LegendRow top={487}>
        <Marker color="#000" />ADX(14) 22.80 <span style={{ color: '#2f8a57' }}>+DI 27.19</span> <span style={{ color: '#b0163f' }}>-DI 39.01</span>
      </LegendRow>
      {/* STO legend */}
      <LegendRow top={565} size={10}>
        <Marker color="#000" />Slow STO %K(39) %D(1) 59.50, <span style={{ color: '#ff0000' }}>59.50</span>
      </LegendRow>
      <LegendRow top={575.5} size={10}>
        <Marker color="#000" />Slow STO %K(14) %D(3) 1.31, <span style={{ color: '#ff0000' }}>10.21</span>
      </LegendRow>
      {/* NAA legend */}
      <LegendRow top={643} left={63} size={10}>
        $NAA50R:$BPCOMPQ
      </LegendRow>
      <LegendRow top={653.5} size={10}>
        <span style={{ color: '#2230b0' }}>
          <Marker color="#2230b0" />EMA(10) 0.89
        </span>
      </LegendRow>
      <LegendRow top={664.5} size={10}>
        <span style={{ color: '#d21c44' }}>
          <Marker color="#d21c44" />EMA(25) 0.90
        </span>
      </LegendRow>
    </div>
  );
}
